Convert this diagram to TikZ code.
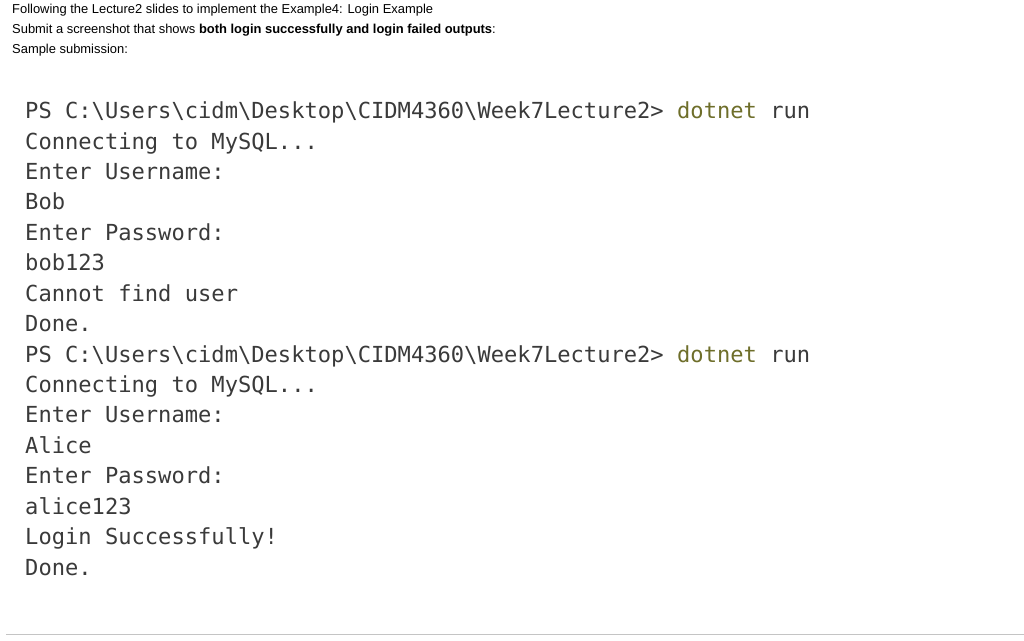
\documentclass[tikz,border=0pt]{standalone}
\usepackage{fontspec}
\setmainfont{Liberation Sans}
\newfontfamily\consfont{DejaVu Sans Mono}
\definecolor{cmdolive}{HTML}{6E6E2A}
\definecolor{consgray}{HTML}{3A3A3A}
\definecolor{rulegray}{HTML}{C4C4C4}
\tikzset{
  headline/.style={anchor=base west, inner sep=0pt, font=\fontsize{12.93pt}{14pt}\selectfont},
  consline/.style={anchor=base west, inner sep=0pt, text=consgray, font=\consfont\fontsize{22.1pt}{24pt}\selectfont},
}
\begin{document}
\begin{tikzpicture}[x=1pt,y=-1pt]
            \useasboundingbox (0,0) rectangle (1024,640);
            \node[headline](H1) at (12,13)  {Following the Lecture2 slides to implement the Example4: Login Example};
            \node[headline](H2) at (12,33)  {Submit a screenshot that shows \textbf{both login successfully and login failed outputs}:};
            \node[headline](H3) at (12,53)  {Sample submission:};
            \node[consline](A1) at (25,118) {PS C:\textbackslash Users\textbackslash cidm\textbackslash Desktop\textbackslash CIDM4360\textbackslash Week7Lecture2> \textcolor{cmdolive}{dotnet} run};
            \node[consline](A2) at (25,149) {Connecting to MySQL...};
            \node[consline](A3) at (25,179) {Enter Username:};
            \node[consline](A4) at (25,209) {Bob};
            \node[consline](A5) at (25,240) {Enter Password:};
            \node[consline](A6) at (25,270) {bob123};
            \node[consline](A7) at (25,301) {Cannot find user};
            \node[consline](A8) at (25,331) {Done.};
            \node[consline](B1) at (25,362) {PS C:\textbackslash Users\textbackslash cidm\textbackslash Desktop\textbackslash CIDM4360\textbackslash Week7Lecture2> \textcolor{cmdolive}{dotnet} run};
            \node[consline](B2) at (25,392) {Connecting to MySQL...};
            \node[consline](B3) at (25,422) {Enter Username:};
            \node[consline](B4) at (25,453) {Alice};
            \node[consline](B5) at (25,483) {Enter Password:};
            \node[consline](B6) at (25,514) {alice123};
            \node[consline](B7) at (25,544) {Login Successfully!};
            \node[consline](B8) at (25,575) {Done.};
            \coordinate (RL) at (6,634);
            \coordinate (RR) at (1024,634);
            \draw[rulegray] (RL) -- (RR);
        \end{tikzpicture}
\end{document}
